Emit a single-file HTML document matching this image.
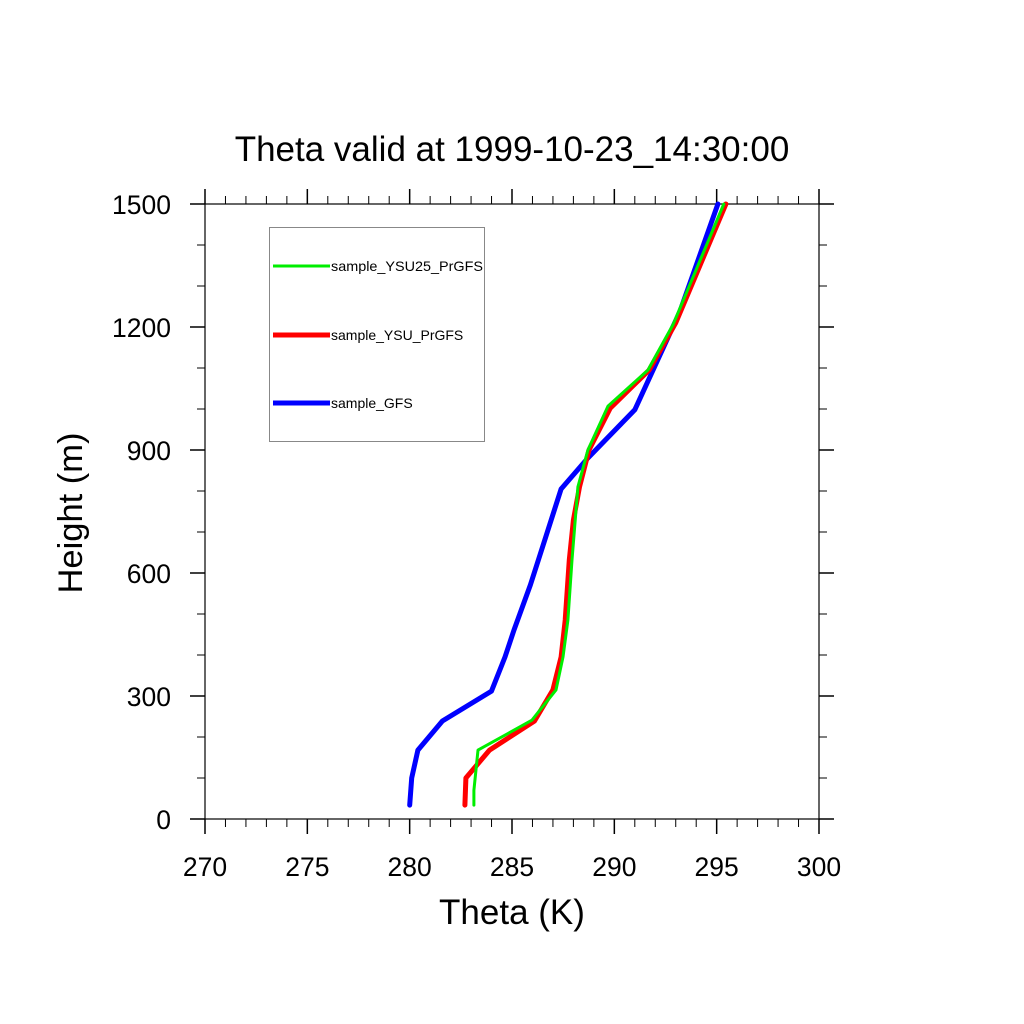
<!DOCTYPE html>
<html><head><meta charset="utf-8"><style>body{margin:0;background:#fff}svg{display:block}text{font-family:"Liberation Sans",sans-serif}</style></head>
<body>
<svg id="c" width="1024" height="1024" xmlns="http://www.w3.org/2000/svg">
<rect width="1024" height="1024" fill="#fff"/>
<text x="512" y="161" font-size="35" text-anchor="middle">Theta valid at 1999-10-23_14:30:00</text>
<text x="512" y="924" font-size="35" text-anchor="middle">Theta (K)</text>
<text transform="translate(82,513) rotate(-90)" font-size="34.5" text-anchor="middle">Height (m)</text>
<g id="axes"></g>
<g id="series"></g>
<g>
<rect x="269.5" y="227.5" width="215" height="214" fill="#fff" stroke="#888" stroke-width="1"/>
<line x1="273" y1="266" x2="330" y2="266" stroke="#00ee00" stroke-width="3"/>
<text x="331" y="271" font-size="14" textLength="152" lengthAdjust="spacingAndGlyphs">sample_YSU25_PrGFS</text>
<line x1="273" y1="335" x2="330" y2="335" stroke="#ff0000" stroke-width="5"/>
<text x="331" y="340" font-size="14">sample_YSU_PrGFS</text>
<line x1="273" y1="403" x2="330" y2="403" stroke="#0000ff" stroke-width="5"/>
<text x="331" y="408" font-size="14">sample_GFS</text>
</g>
</svg>
<script>
const xTicks=[270,275,280,285,290,295,300];
const yTicks=[0,300,600,900,1200,1500];
const gfsTheta=[280.0,280.1,280.4,281.6,284.0,284.66,285.1,285.9,286.6,287.4,288.7,291.0,293.2,295.06];
const gfsHeight=[34,100,168,239,312,395,461,571,680,805,880,998,1237,1500];
const ysuTheta=[282.7,282.75,283.9,286.1,287.0,287.4,287.6,287.8,288.0,288.3,288.76,289.8,291.7,293.0,295.45];
const ysuHeight=[34,100,168,239,315,395,485,632,729,810,900,1002,1095,1210,1500];
const ysu25Theta=[283.14,283.14,283.34,285.97,287.15,287.49,287.73,287.93,288.22,288.71,289.69,291.64,292.86,295.35];
const ysu25Height=[34,70,168,241,315,395,485,632,810,900,1007,1095,1205,1500];
const NS='http://www.w3.org/2000/svg';
const X0=205,X1=819,Y0=819,Y1=204;
const xs=v=>X0+(v-270)/30*(X1-X0);
const ys=v=>Y0-v/1500*(Y0-Y1);
function mk(tag,attrs,parent){const e=document.createElementNS(NS,tag);for(const k in attrs)e.setAttribute(k,attrs[k]);parent.appendChild(e);return e;}
const ax=document.getElementById('axes');
const f=mk('rect',{x:X0,y:Y1,width:X1-X0,height:Y0-Y1,fill:'none',stroke:'#000','stroke-width':1.2},ax);


for(let v=270;v<=300;v++){const maj=v%5===0;const L=maj?15:8;const x=xs(v);
 const t1=mk('line',{x1:x,x2:x,y1:Y0,y2:Y0+L,stroke:'#000','stroke-width':maj?1.5:1},ax);
 
 
 const t2=mk('line',{x1:x,x2:x,y1:Y1,y2:Y1-L,stroke:'#000','stroke-width':maj?1.5:1},ax);
 
 }
for(let v=0;v<=1500;v+=100){const maj=v%300===0;const L=maj?15:8;const y=ys(v);
 const t1=mk('line',{x1:X0,x2:X0-L,y1:y,y2:y,stroke:'#000','stroke-width':maj?1.5:1},ax);
 
 
 const t2=mk('line',{x1:X1,x2:X1+L,y1:y,y2:y,stroke:'#000','stroke-width':maj?1.5:1},ax);
 
 }
xTicks.forEach(v=>{const t=mk('text',{x:xs(v),y:876,'font-size':26.5,'text-anchor':'middle'},ax);t.textContent=v;
 
 });
yTicks.forEach(v=>{const t=mk('text',{x:171,y:ys(v)+10,'font-size':26.5,'text-anchor':'end'},ax);t.textContent=v;
 
 });
const sg=document.getElementById('series');
function line(xa,ya,color,w,name){const p=xa.map((v,i)=>xs(v).toFixed(1)+','+ys(ya[i]).toFixed(1)).join(' ');
 const e=mk('polyline',{points:p,fill:'none',stroke:color,'stroke-width':w,'stroke-linejoin':'round','stroke-linecap':'round'},sg);
 
 }
line(gfsTheta,gfsHeight,'#0000ff',5,'series-gfs');
line(ysuTheta,ysuHeight,'#ff0000',5,'series-ysu');
line(ysu25Theta,ysu25Height,'#00ee00',3,'series-ysu25');
</script>
</body></html>
